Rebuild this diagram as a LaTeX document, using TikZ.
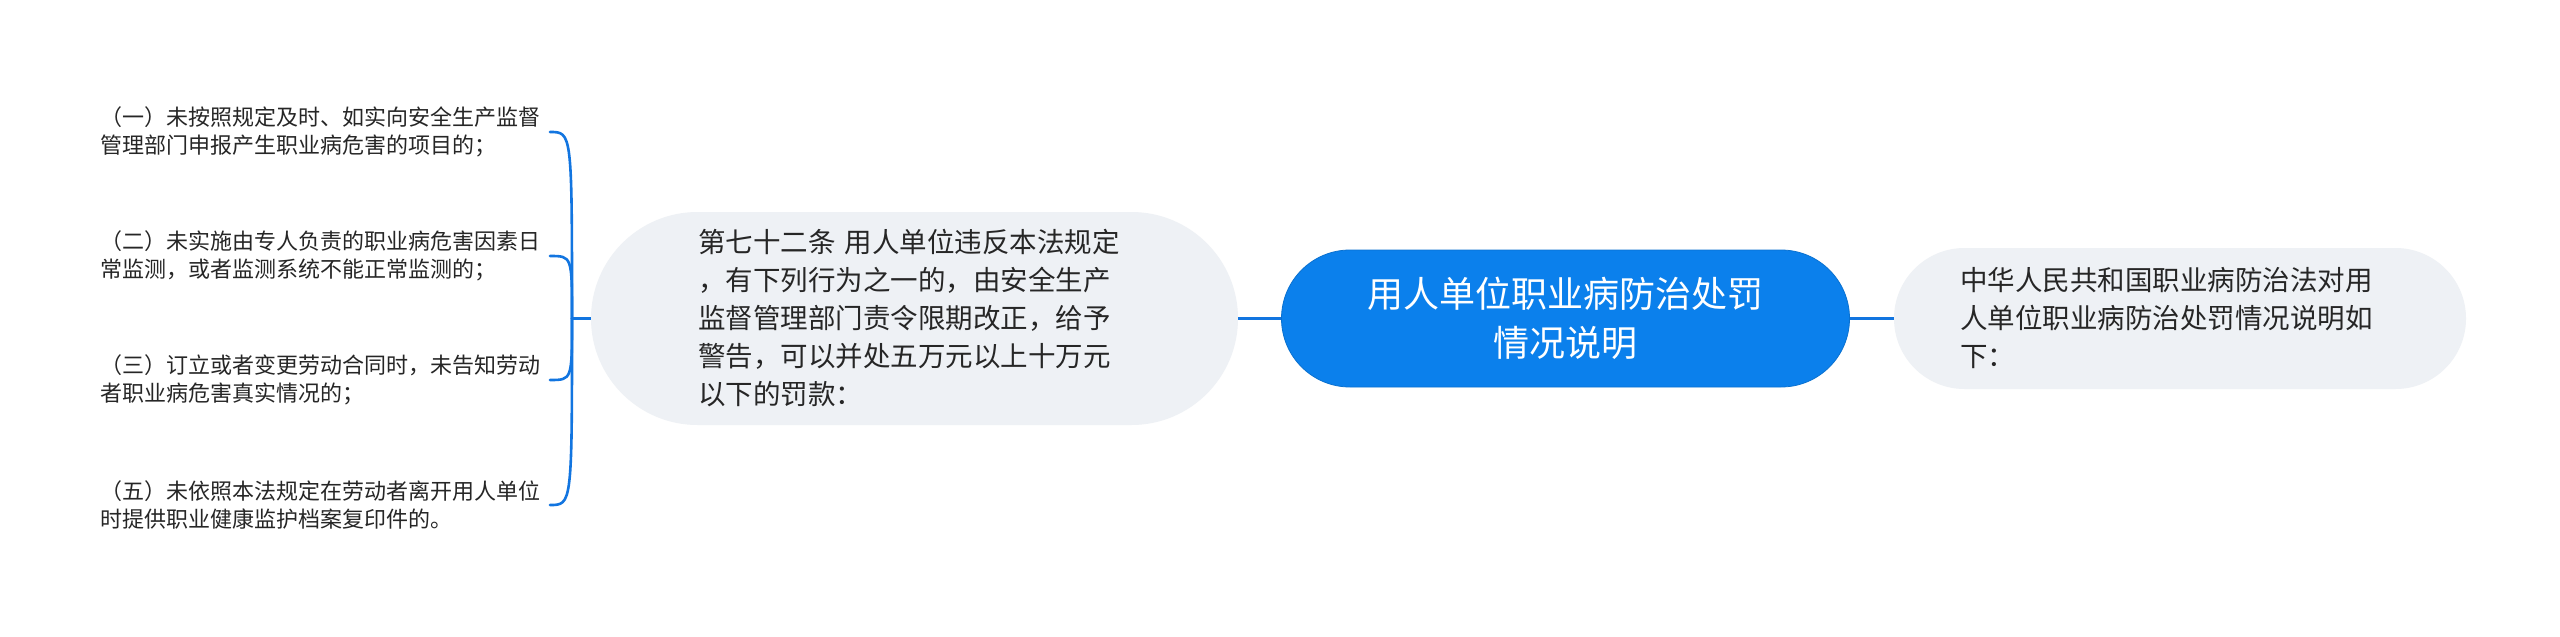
\documentclass[tikz,border=0pt]{standalone}
\usepackage{fontspec}
\setmainfont{Noto Sans CJK SC}
\usetikzlibrary{shapes.misc}
\definecolor{mainblue}{RGB}{11,128,236}
\definecolor{lineblue}{RGB}{18,117,224}
\definecolor{subfill}{RGB}{238,241,245}
\definecolor{txt}{RGB}{38,38,38}
\begin{document}
\begin{tikzpicture}[x=1pt,y=-1pt,
  rootbox/.style={rounded rectangle, fill=mainblue, draw=mainblue!88!black, line width=0.8pt,
    minimum width=568pt, minimum height=137pt, text=white, align=center,
    font=\fontsize{36pt}{49pt}\selectfont, inner sep=0pt},
  subbox/.style={rounded rectangle, fill=subfill, text=txt, align=left,
    font=\fontsize{27.5pt}{38pt}\selectfont, inner sep=0pt},
  leaf/.style={text=txt, align=left, font=\fontsize{22pt}{28pt}\selectfont,
    inner sep=0pt, anchor=east, text width=449pt},
  conn/.style={draw=lineblue, line width=2.6pt}]
\fill[white] (0,0) rectangle (2560,637);
\useasboundingbox (0,0) rectangle (2560,637);

\node[subbox, minimum width=647pt, minimum height=213pt, text width=433pt] (mid) at (914.5,318.5)
  {第七十二条 用人单位违反本法规定\\，有下列行为之一的，由安全生产\\监督管理部门责令限期改正，给予\\警告，可以并处五万元以上十万元\\以下的罚款：};
\node[rootbox] (root) at (1565.5,318.5) {用人单位职业病防治处罚\\情况说明};
\node[subbox, minimum width=572pt, minimum height=141pt, text width=440pt] (desc) at (2180,318.5)
  {中华人民共和国职业病防治法对用\\人单位职业病防治处罚情况说明如\\下：};

\node[leaf] (l1) at (550,132) {（一）未按照规定及时、如实向安全生产监督\\管理部门申报产生职业病危害的项目的；};
\node[leaf] (l2) at (550,256) {（二）未实施由专人负责的职业病危害因素日\\常监测，或者监测系统不能正常监测的；};
\node[leaf] (l3) at (550,380) {（三）订立或者变更劳动合同时，未告知劳动\\者职业病危害真实情况的；};
\node[leaf] (l4) at (550,505) {（五）未依照本法规定在劳动者离开用人单位\\时提供职业健康监护档案复印件的。};

\coordinate (stem) at (572,318.5);
\draw[conn] (mid.west) -- (stem);
\foreach \l in {l1,l2,l3,l4}
  \draw[conn, line cap=round] (stem) .. controls (stem |- \l.east) .. (\l.east);
\draw[conn] (mid.east) -- (root.west);
\draw[conn] (root.east) -- (desc.west);
\end{tikzpicture}
\end{document}
